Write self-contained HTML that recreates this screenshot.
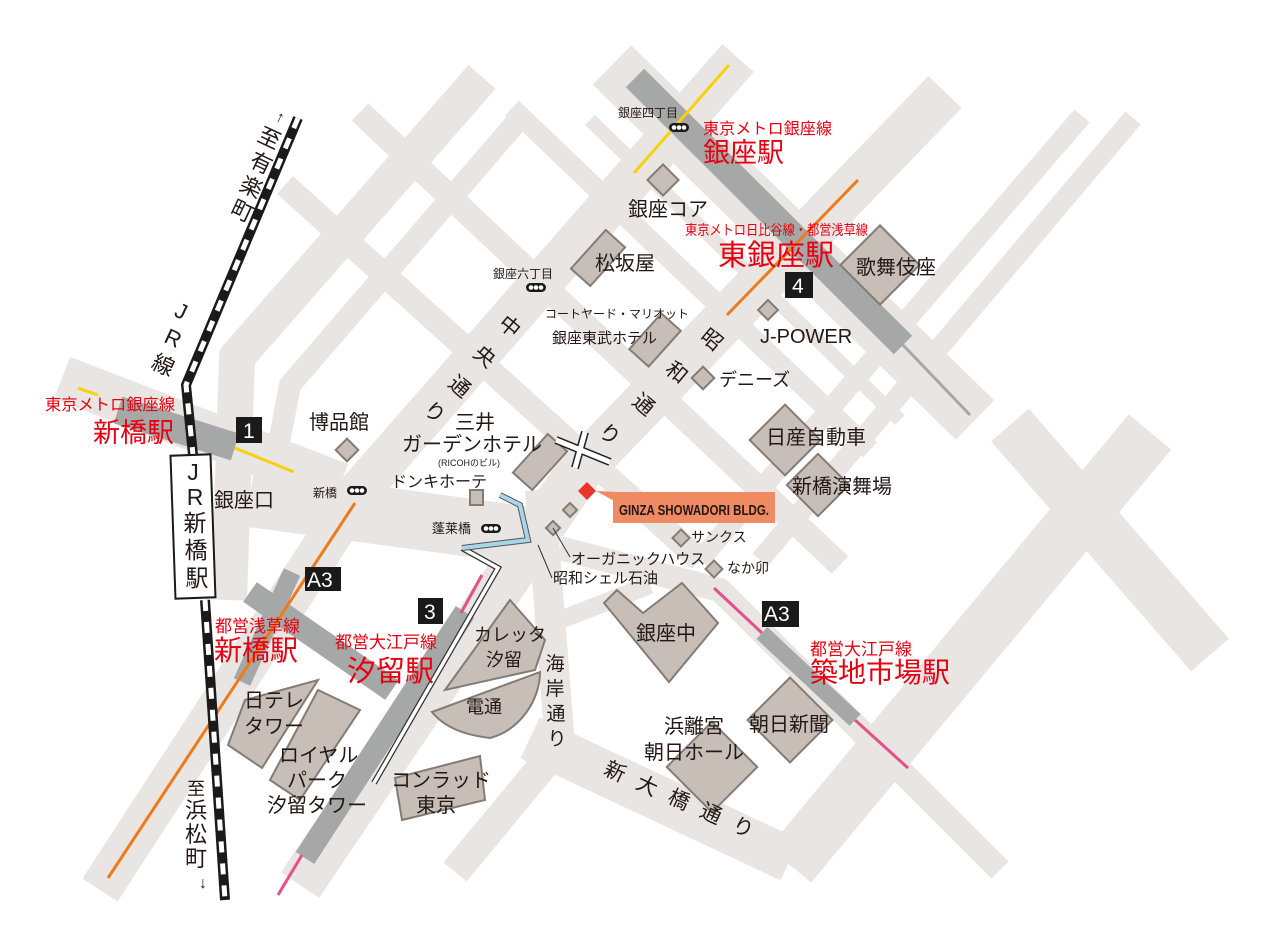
<!DOCTYPE html>
<html><head><meta charset="utf-8"><style>
html,body{margin:0;padding:0;background:#fff;}
svg{display:block;}
text{font-family:"Liberation Sans","Noto Sans CJK JP",sans-serif;fill:#231815;}
.r{fill:#e60012;}
</style></head><body>
<svg width="1275" height="947" viewBox="0 0 1275 947" xmlns="http://www.w3.org/2000/svg">
<rect width="1275" height="947" fill="#fff"/>
<g fill="none" stroke="#e8e5e2" stroke-linejoin="round">
 <polyline points="482,77 237,357 229,600" stroke-width="36"/>
 <polyline points="527,110 290,385 272,480" stroke-width="22"/>
 <polyline points="738,58 360,490 100,890" stroke-width="42"/>
 <polyline points="945,92 580,470 300,885" stroke-width="46"/>
 <polyline points="1082,116 700,560" stroke-width="20"/>
 <polyline points="1133,118 760,560" stroke-width="20"/>
 <polyline points="1150,432 790,865" stroke-width="55"/>
 <polyline points="540,490 560,745 455,872" stroke-width="30"/>
 <polyline points="560,620 650,585" stroke-width="18"/>
 <polyline points="612,65 975,420" stroke-width="55"/>
 <polyline points="360,112 840,565" stroke-width="24"/>
 <polyline points="285,185 700,560" stroke-width="24"/>
 <polyline points="512,108 870,450" stroke-width="20"/>
 <polyline points="62,378 340,485" stroke-width="45"/>
 <polyline points="250,498 560,540" stroke-width="58"/>
 <polyline points="560,548 720,590 1000,870" stroke-width="24"/>
 <polyline points="1010,425 1210,655" stroke-width="50"/>
 <polyline points="530,738 790,860" stroke-width="45"/>
 <polyline points="590,120 900,420" stroke-width="14"/>
</g>
<g fill="none" stroke="#a5a8a7" stroke-linecap="butt">
 <line x1="635" y1="78" x2="903" y2="345" stroke-width="26"/>
 <line x1="903" y1="345" x2="970" y2="415" stroke-width="3"/>
 <line x1="118" y1="410" x2="235" y2="447" stroke-width="28"/>
 <line x1="465" y1="612" x2="305" y2="858" stroke-width="22"/>
 <polyline points="250,592 392,690" stroke-width="24"/>
 <line x1="292" y1="572" x2="242" y2="682" stroke-width="18"/>
 <line x1="762" y1="633" x2="855" y2="720" stroke-width="16"/>
</g>
<g fill="none" stroke-width="3">
 <line x1="729" y1="65" x2="634" y2="173" stroke="#f5d20a"/>
 <line x1="78" y1="388" x2="98" y2="395" stroke="#f5d20a"/>
 <line x1="235" y1="448" x2="294" y2="472" stroke="#f5d20a"/>
 <line x1="727" y1="315" x2="858" y2="180" stroke="#ee7a1a"/>
 <line x1="355" y1="503" x2="108" y2="878" stroke="#ee7a1a"/>
 <line x1="482" y1="575" x2="461" y2="613" stroke="#e4508a"/>
 <line x1="302" y1="855" x2="278" y2="895" stroke="#e4508a"/>
 <line x1="714" y1="588" x2="762" y2="633" stroke="#e4508a"/>
 <line x1="855" y1="720" x2="908" y2="768" stroke="#e4508a"/>
</g>
<polyline points="462,548 498,568 374,783" fill="none" stroke="#333" stroke-width="6"/>
<polyline points="462,548 498,568 374,783" fill="none" stroke="#fff" stroke-width="3.5"/>
<polyline points="462,548 528,540 520,505 500,495" fill="none" stroke="#555" stroke-width="6"/>
<polyline points="462,548 528,540 520,505 500,495" fill="none" stroke="#a9d5ea" stroke-width="4"/>
<g fill="#c7beb8" stroke="#857b75" stroke-width="2">
 <rect x="-11" y="-11" width="22" height="22" transform="translate(663,180) rotate(45)"/>
 <rect x="-13" y="-26" width="26" height="52" transform="translate(598,258) rotate(42)"/>
 <rect x="-28" y="-28" width="56" height="56" transform="translate(880,265) rotate(45)"/>
 <rect x="-7" y="-7" width="14" height="14" transform="translate(768,310) rotate(45)"/>
 <rect x="-13" y="-24" width="26" height="48" transform="translate(655,340) rotate(42)"/>
 <rect x="-8" y="-8" width="16" height="16" transform="translate(703,378) rotate(45)"/>
 <rect x="-25" y="-25" width="50" height="50" transform="translate(785,440) rotate(45)"/>
 <rect x="-22" y="-22" width="44" height="44" transform="translate(818,485) rotate(45)"/>
 <rect x="-8" y="-8" width="16" height="16" transform="translate(347,450) rotate(45)"/>
 <rect x="-13" y="-26" width="26" height="52" transform="translate(540,462) rotate(42)"/>
 <rect x="470" y="490" width="13" height="15"/>
 <rect x="-5" y="-5" width="10" height="10" transform="translate(570,510) rotate(45)"/>
 <rect x="-5" y="-5" width="10" height="10" transform="translate(553,528) rotate(45)"/>
 <rect x="-6" y="-6" width="12" height="12" transform="translate(681,538) rotate(45)"/>
 <rect x="-6" y="-6" width="12" height="12" transform="translate(714,569) rotate(45)"/>
 <polygon points="604,603 617,590 643,613 682,583 718,623 669,682"/>
 <rect x="-30" y="-30" width="60" height="60" transform="translate(790,720) rotate(45)"/>
 <rect x="-32" y="-32" width="64" height="64" transform="translate(712,767) rotate(45)"/>
 <polygon points="510,600 545,640 535,670 445,690"/>
 <path d="M432,712 L540,672 C540,700 520,730 490,738 C465,735 445,728 432,712Z"/>
 <polygon points="395,778 480,756 485,800 402,820"/>
 <polygon points="245,700 318,680 262,768 228,745"/>
 <polygon points="318,690 360,710 300,800 270,780"/>
</g>
<g stroke="#222" stroke-width="8" fill="none"><line x1="556" y1="440" x2="610" y2="462"/><line x1="575" y1="468" x2="585" y2="432"/></g>
<g stroke="#fff" stroke-width="5" fill="none"><line x1="556" y1="440" x2="610" y2="462"/><line x1="575" y1="468" x2="585" y2="432"/></g>
<polygon points="587,482 596,491 587,500 578,491" fill="#e8362a"/>
<polygon points="596,491 618,492 618,503" fill="#ef8a62"/>
<rect x="613" y="492" width="162" height="31" fill="#ef8a62"/>
<text x="619" y="515" font-size="15" font-weight="bold" textLength="150" lengthAdjust="spacingAndGlyphs" style="font-family:'Liberation Sans Narrow','Liberation Sans',sans-serif">GINZA SHOWADORI BLDG.</text>
<polyline points="298,118 186,385 193,455" fill="none" stroke="#1a1a1a" stroke-width="10"/>
<polyline points="298,118 186,385 193,455" fill="none" stroke="#fff" stroke-width="5" stroke-dasharray="11 11"/>
<polyline points="205,600 225,900" fill="none" stroke="#1a1a1a" stroke-width="10"/>
<polyline points="205,600 225,900" fill="none" stroke="#fff" stroke-width="5" stroke-dasharray="11 11"/>
<rect x="173" y="455" width="40" height="143" fill="#fff" stroke="#1a1a1a" stroke-width="2" transform="rotate(-2 193 527)"/>
<g font-size="23" text-anchor="middle"><text x="193" y="480">J</text><text x="195" y="505">R</text><text x="195" y="531">新</text><text x="196" y="558">橋</text><text x="197" y="586">駅</text></g>
<g font-size="22" text-anchor="middle">
 <text transform="translate(178,318) rotate(25)">J</text>
 <text transform="translate(170,345) rotate(25)">R</text>
 <text transform="translate(160,372) rotate(25)">線</text>
 <text font-size="16" transform="translate(278,122) rotate(25)">↑</text>
 <text transform="translate(266,145) rotate(25)">至</text>
 <text transform="translate(258,170) rotate(25)">有</text>
 <text transform="translate(248,194) rotate(25)">楽</text>
 <text transform="translate(239,218) rotate(25)">町</text>
 <text font-size="18" x="196" y="795">至</text><text x="196" y="818">浜</text><text x="196" y="842">松</text><text x="196" y="866">町</text><text font-size="16" x="203" y="888">↓</text>
</g>
<g font-size="21" text-anchor="middle">
 <text transform="translate(505,332) rotate(40)">中</text>
 <text transform="translate(480,362) rotate(40)">央</text>
 <text transform="translate(455,392) rotate(40)">通</text>
 <text transform="translate(430,418) rotate(40)">り</text>
 <text transform="translate(707,345) rotate(40)">昭</text>
 <text transform="translate(672,378) rotate(40)">和</text>
 <text transform="translate(639,410) rotate(40)">通</text>
 <text transform="translate(605,440) rotate(40)">り</text>
 <text transform="translate(612,778) rotate(25)">新</text>
 <text transform="translate(644,792) rotate(25)">大</text>
 <text transform="translate(676,806) rotate(25)">橋</text>
 <text transform="translate(708,820) rotate(25)">通</text>
 <text transform="translate(740,834) rotate(25)">り</text>
 <text font-size="19" x="555" y="670">海</text><text font-size="19" x="555" y="695">岸</text><text font-size="19" x="556" y="720">通</text><text font-size="19" x="557" y="745">り</text>
</g>
<g>
 <rect x="669" y="123" width="20" height="9" rx="4.5" fill="#1a1a1a"/><circle cx="674" cy="127.5" r="2.3" fill="#fff"/><circle cx="679" cy="127.5" r="2.3" fill="#fff"/><circle cx="684" cy="127.5" r="2.3" fill="#fff"/>
 <rect x="526" y="283" width="20" height="9" rx="4.5" fill="#1a1a1a"/><circle cx="531" cy="287.5" r="2.3" fill="#fff"/><circle cx="536" cy="287.5" r="2.3" fill="#fff"/><circle cx="541" cy="287.5" r="2.3" fill="#fff"/>
 <rect x="347" y="486" width="20" height="9" rx="4.5" fill="#1a1a1a"/><circle cx="352" cy="490.5" r="2.3" fill="#fff"/><circle cx="357" cy="490.5" r="2.3" fill="#fff"/><circle cx="362" cy="490.5" r="2.3" fill="#fff"/>
 <rect x="481" y="524" width="20" height="9" rx="4.5" fill="#1a1a1a"/><circle cx="486" cy="528.5" r="2.3" fill="#fff"/><circle cx="491" cy="528.5" r="2.3" fill="#fff"/><circle cx="496" cy="528.5" r="2.3" fill="#fff"/>
</g>
<g font-size="21">
 <rect x="236" y="417" width="26" height="26" fill="#1a1a1a"/><text x="243" y="438" style="fill:#fff">1</text>
 <rect x="785" y="272" width="28" height="26" fill="#1a1a1a"/><text x="792" y="293" style="fill:#fff">4</text>
 <rect x="305" y="567" width="36" height="24" fill="#1a1a1a"/><text x="307" y="587" style="fill:#fff">A3</text>
 <rect x="418" y="598" width="25" height="26" fill="#1a1a1a"/><text x="424" y="619" style="fill:#fff">3</text>
 <rect x="762" y="601" width="37" height="26" fill="#1a1a1a"/><text x="764" y="621" style="fill:#fff">A3</text>
</g>
<g stroke="#333" stroke-width="1"><line x1="553" y1="528" x2="570" y2="557"/><line x1="538" y1="545" x2="552" y2="578"/></g>
<g font-size="20">
 <text x="628" y="216">銀座コア</text>
 <text x="856" y="274">歌舞伎座</text>
 <text x="595" y="270">松坂屋</text>
 <text x="760" y="343">J-POWER</text>
 <text x="719" y="386" font-size="18">デニーズ</text>
 <text x="766" y="444">日産自動車</text>
 <text x="792" y="493">新橋演舞場</text>
 <text x="309" y="429">博品館</text>
 <text x="455" y="429">三井</text>
 <text x="402" y="451">ガーデンホテル</text>
 <text x="214" y="507">銀座口</text>
 <text x="636" y="640">銀座中</text>
 <text x="474" y="641" font-size="18">カレッタ</text>
 <text x="486" y="666" font-size="18">汐留</text>
 <text x="466" y="713" font-size="18">電通</text>
 <text x="749" y="731">朝日新聞</text>
 <text x="664" y="733">浜離宮</text>
 <text x="644" y="759">朝日ホール</text>
 <text x="244" y="707">日テレ</text>
 <text x="244" y="733">タワー</text>
 <text x="279" y="762">ロイヤル</text>
 <text x="287" y="787">パーク</text>
 <text x="267" y="812">汐留タワー</text>
 <text x="391" y="787">コンラッド</text>
 <text x="416" y="812">東京</text>
</g>
<g font-size="12">
 <text x="618" y="117">銀座四丁目</text>
 <text x="493" y="278">銀座六丁目</text>
 <text x="545" y="318">コートヤード・マリオット</text>
 <text x="552" y="343" font-size="15">銀座東武ホテル</text>
 <text x="438" y="466" font-size="9">(RICOHのビル)</text>
 <text x="391" y="487" font-size="16">ドンキホーテ</text>
 <text x="313" y="497">新橋</text>
 <text x="432" y="533" font-size="13">蓬莱橋</text>
 <text x="571" y="564" font-size="15">オーガニックハウス</text>
 <text x="553" y="583" font-size="15">昭和シェル石油</text>
 <text x="691" y="542" font-size="14">サンクス</text>
 <text x="727" y="573" font-size="14">なか卯</text>
</g>
<g>
 <text class="r" x="703" y="134" font-size="16" textLength="129">東京メトロ銀座線</text>
 <text class="r" x="703" y="162" font-size="27">銀座駅</text>
 <text class="r" x="685" y="235" font-size="14" textLength="183" lengthAdjust="spacingAndGlyphs">東京メトロ日比谷線・都営浅草線</text>
 <text class="r" x="718" y="265" font-size="29">東銀座駅</text>
 <text class="r" x="45" y="410" font-size="16" textLength="130" lengthAdjust="spacingAndGlyphs">東京メトロ銀座線</text>
 <text class="r" x="93" y="442" font-size="27">新橋駅</text>
 <text class="r" x="215" y="632" font-size="17">都営浅草線</text>
 <text class="r" x="214" y="660" font-size="28">新橋駅</text>
 <text class="r" x="335" y="648" font-size="17">都営大江戸線</text>
 <text class="r" x="347" y="681" font-size="29">汐留駅</text>
 <text class="r" x="810" y="655" font-size="17">都営大江戸線</text>
 <text class="r" x="810" y="682" font-size="28">築地市場駅</text>
</g>
</svg>
</body></html>
